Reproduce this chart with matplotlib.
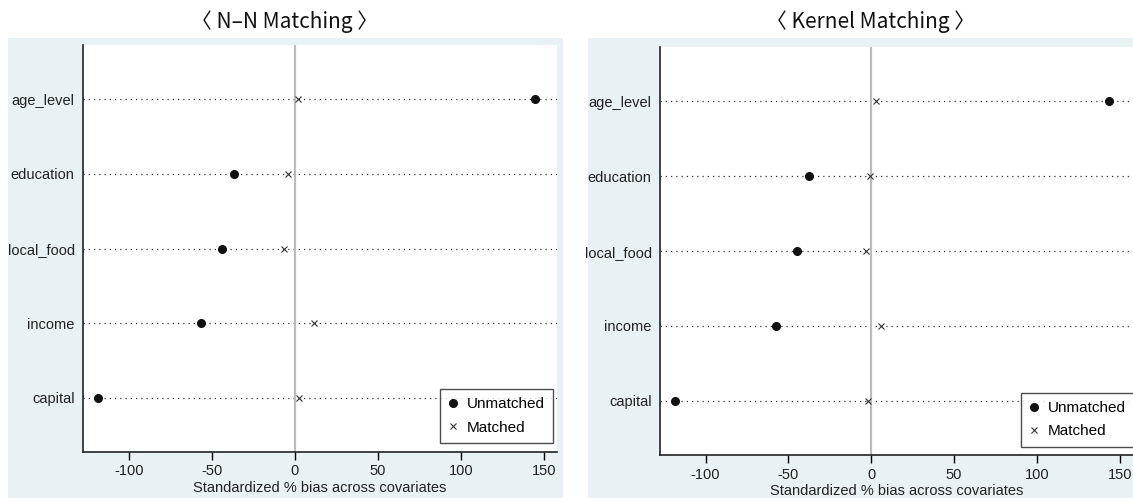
import matplotlib.pyplot as plt
from matplotlib.patches import Rectangle
from matplotlib.lines import Line2D

covariates = ["age_level", "education", "local_food", "income", "capital"]

# standardized % bias, nearest-neighbour matching
nn_unmatched = [144.6, -36.7, -44.0, -56.6, -118.7]
nn_matched = [1.8, -4.2, -6.6, 11.4, 2.4]

# standardized % bias, kernel matching
kernel_unmatched = [143.4, -37.3, -44.6, -57.2, -118.7]
kernel_matched = [3.0, -0.6, -3.0, 6.0, -1.8]

titles = ["\u3008 N\u2013N Matching \u3009", "\u3008 Kernel Matching \u3009"]
xticks = [-100, -50, 0, 50, 100, 150]

bg = "#e8f1f4"
plt.rcParams["font.family"] = ["Liberation Sans", "DejaVu Sans"]

fig = plt.figure(figsize=(11.33, 4.98), dpi=100)

# light graph regions behind each panel
fig.patches.append(Rectangle((0.007, 0.0), 0.490, 0.924, transform=fig.transFigure,
                             facecolor=bg, edgecolor="none", zorder=-10))
fig.patches.append(Rectangle((0.519, 0.0), 0.481, 0.924, transform=fig.transFigure,
                             facecolor=bg, edgecolor="none", zorder=-10))

ax1 = fig.add_axes([0.0733, 0.0924, 0.4183, 0.8172])
ax2 = fig.add_axes([0.5825, 0.0863, 0.4175, 0.8193])

panels = [(ax1, nn_unmatched, nn_matched, 0.2515, (0.992, 0.022)),
          (ax2, kernel_unmatched, kernel_matched, 0.768, (1.002, 0.02))]

ypos = list(range(len(covariates), 0, -1))

for i, (ax, unm, mat, tx, anchor) in enumerate(panels):
    ax.set_facecolor("white")
    ax.set_xlim(-127.5, 158)
    ax.set_ylim(0.275, 5.725)
    for y in ypos:
        ax.axhline(y, color="#333333", lw=0.9, ls=(0, (1, 3.2)), zorder=1)
    ax.axvline(0, color="#bbbbbb", lw=1.6, zorder=1)
    ax.plot(unm, ypos, ls="none", marker="o", ms=5.5, color="#111111", zorder=3,
            label="Unmatched")
    ax.plot(mat, ypos, ls="none", marker="x", ms=5, mew=0.8, color="#333333",
            zorder=3, label="Matched")

    ax.set_yticks(ypos)
    ax.set_yticklabels(covariates, fontsize=10.5, color="#222222")
    ax.tick_params(axis="y", length=0, pad=6)
    ax.set_xticks(xticks)
    ax.set_xticklabels([str(t) for t in xticks], fontsize=10.5, color="#222222")
    ax.tick_params(axis="x", direction="out", length=6, width=1, pad=3)
    ax.set_xlabel("Standardized % bias across covariates", fontsize=10.5,
                  color="#222222", labelpad=2)
    for side in ["top", "right"]:
        ax.spines[side].set_visible(False)
    for side in ["left", "bottom"]:
        ax.spines[side].set_color("#222222")
        ax.spines[side].set_linewidth(1.2)

    handles = [Line2D([], [], ls="none", marker="o", ms=5.5, color="#111111"),
               Line2D([], [], ls="none", marker="x", ms=5, mew=0.8, color="#333333")]
    leg = ax.legend(handles, ["Unmatched", "Matched"], loc="lower right",
                    bbox_to_anchor=anchor, borderaxespad=0, fontsize=11,
                    frameon=True, fancybox=False, edgecolor="#222222",
                    handlelength=0.6, handletextpad=0.6, borderpad=0.55,
                    labelspacing=0.6)
    leg.get_frame().set_linewidth(1.0)

    fig.text(tx, 0.956, titles[i], ha="center", va="center", fontsize=15,
             family=["Noto Sans CJK KR", "DejaVu Sans"], color="#111111")

fig.savefig("out.png", dpi=100)
